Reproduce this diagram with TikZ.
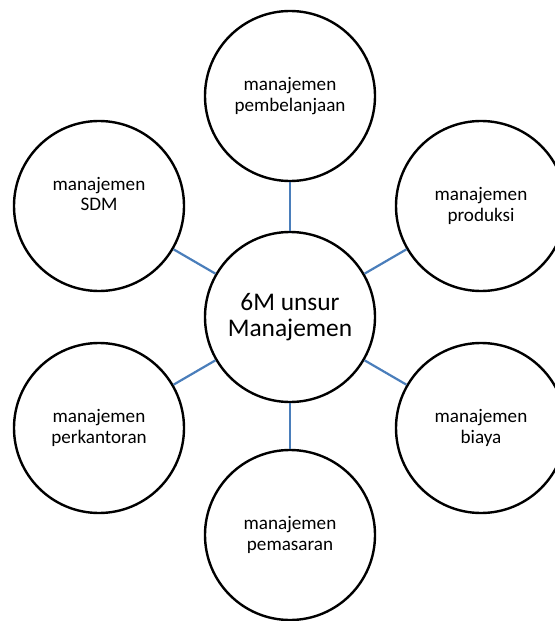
\documentclass[tikz,border=0pt]{standalone}
\usepackage{fontspec}
\setmainfont{Carlito}
\definecolor{garisbiru}{HTML}{4A7EBB}

\begin{document}
\begin{tikzpicture}[x=1bp,y=-1bp,
    unsur/.style={circle,draw,line width=2.4bp,minimum size=170bp,inner sep=0pt,
      align=center,font=\fontsize{19.2}{20.5}\selectfont},
    garis/.style={line width=2.2bp,garisbiru}]
  \useasboundingbox (0,0) rectangle (555,621);

  % pusat
  \node[unsur,font=\fontsize{25.5}{25.5}\selectfont] (pusat) at (290,317) {6M unsur\\Manajemen};

  % enam lingkaran di sekeliling
  \node[unsur] (belanja)  at (290,96)  {manajemen\\pembelanjaan};
  \node[unsur] (produksi) at (481,206) {manajemen\\produksi};
  \node[unsur] (biaya)    at (481,428) {manajemen\\biaya};
  \node[unsur] (pasar)    at (290,535) {manajemen\\pemasaran};
  \node[unsur] (kantor)   at (99,428)  {manajemen\\perkantoran};
  \node[unsur] (sdm)      at (99,206)  {manajemen\\SDM\\[4bp]\mbox{}};

  \foreach \n in {belanja,produksi,biaya,pasar,kantor,sdm}
    \draw[garis] (pusat) -- (\n);
\end{tikzpicture}
\end{document}
